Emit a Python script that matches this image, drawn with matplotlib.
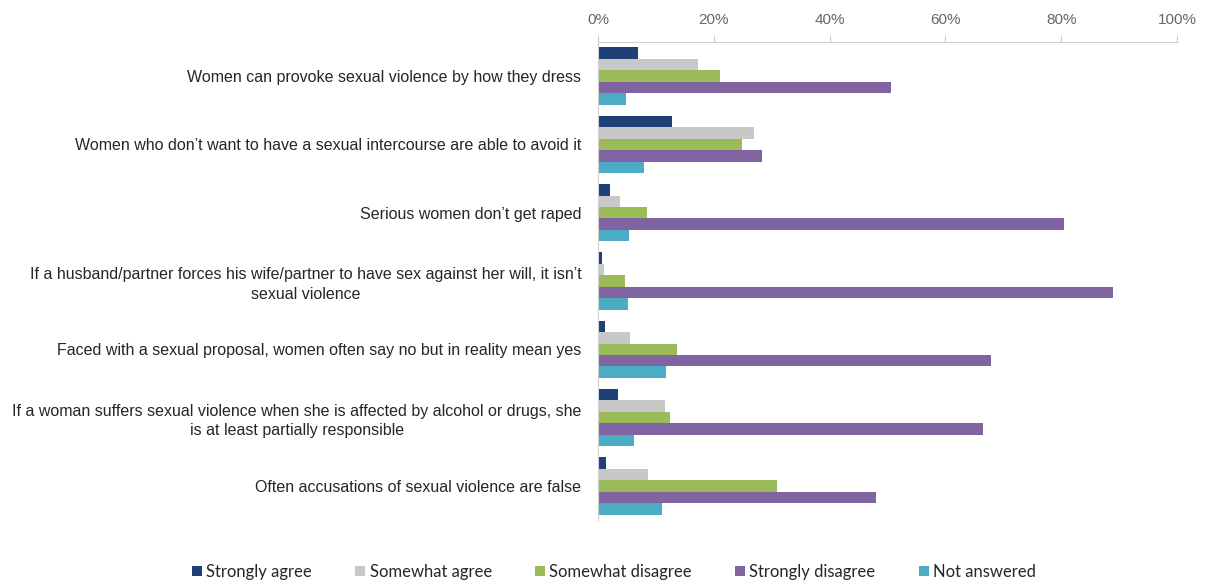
import matplotlib
matplotlib.use("Agg")
import matplotlib.pyplot as plt
import numpy as np
from matplotlib.ticker import FuncFormatter

categories = [
    "Women can provoke sexual violence by how they dress",
    "Women who don\u2019t want to have a sexual intercourse are able to avoid it",
    "Serious women don\u2019t get raped",
    "If a husband/partner forces his wife/partner to have sex against her will, it isn\u2019t\nsexual violence",
    "Faced with a sexual proposal, women often say no but in reality mean yes",
    "If a woman suffers sexual violence when she is affected by alcohol or drugs, she\nis at least partially responsible",
    "Often accusations of sexual violence are false",
]
series_names = ["Strongly agree", "Somewhat agree", "Somewhat disagree", "Strongly disagree", "Not answered"]
strongly_agree = [6.9, 12.7, 2.0, 0.7, 1.2, 3.4, 1.4]
somewhat_agree = [17.2, 26.9, 3.8, 1.0, 5.6, 11.5, 8.7]
somewhat_disagree = [21.0, 24.9, 8.5, 4.6, 13.7, 12.5, 31.0]
strongly_disagree = [50.6, 28.3, 80.4, 88.9, 67.8, 66.5, 48.1]
not_answered = [4.8, 7.9, 5.4, 5.2, 11.7, 6.2, 11.0]
xticks = [0, 20, 40, 60, 80, 100]

colors = ["#1F3F77", "#C8C8C8", "#9BBB59", "#8064A2", "#4BACC6"]
data = [strongly_agree, somewhat_agree, somewhat_disagree, strongly_disagree, not_answered]

plt.rcParams['font.family'] = ['Liberation Sans', 'DejaVu Sans']
fig = plt.figure(figsize=(12.12, 5.83), dpi=100)
ax = fig.add_axes([598/1212, 1 - 520/583, (1177-598)/1212, (520-42)/583])

n = len(categories)
y = np.arange(n)
bh = 0.168
for i, (vals, c, name) in enumerate(zip(data, colors, series_names)):
    ax.barh(y + (i - 2) * bh, vals, height=bh, color=c, label=name)

ax.set_ylim(n - 0.5, -0.5)
ax.set_xlim(0, 100)
ax.set_xticks(xticks)
ax.xaxis.set_major_formatter(FuncFormatter(lambda v, p: f"{int(v)}%"))
ax.xaxis.tick_top()
ax.tick_params(axis='x', which='both', direction='out', length=5, color='#D0D0D0',
               labelcolor='#666666', labelsize=11, pad=6)
ax.set_yticks(y)
ax.set_yticklabels(categories, fontsize=11.5, color='#262626', ha='right',
                   multialignment='center', linespacing=1.35)
ax.tick_params(axis='y', length=0, pad=12)
for s in ['right', 'bottom']:
    ax.spines[s].set_visible(False)
ax.spines['top'].set_color('#D0D0D0')
ax.spines['left'].set_color('#D0D0D0')

handles, labels = ax.get_legend_handles_labels()
leg = fig.legend(handles, labels, loc='center', bbox_to_anchor=(614/1212, 1 - 572/583), ncol=5,
                 frameon=False, prop={'family': ['Lato', 'DejaVu Sans'], 'size': 12},
                 handlelength=0.6, handleheight=0.6,
                 handletextpad=0.25, columnspacing=2.6)
for t in leg.get_texts():
    t.set_color('#262626')

fig.savefig("out.png", dpi=100)
